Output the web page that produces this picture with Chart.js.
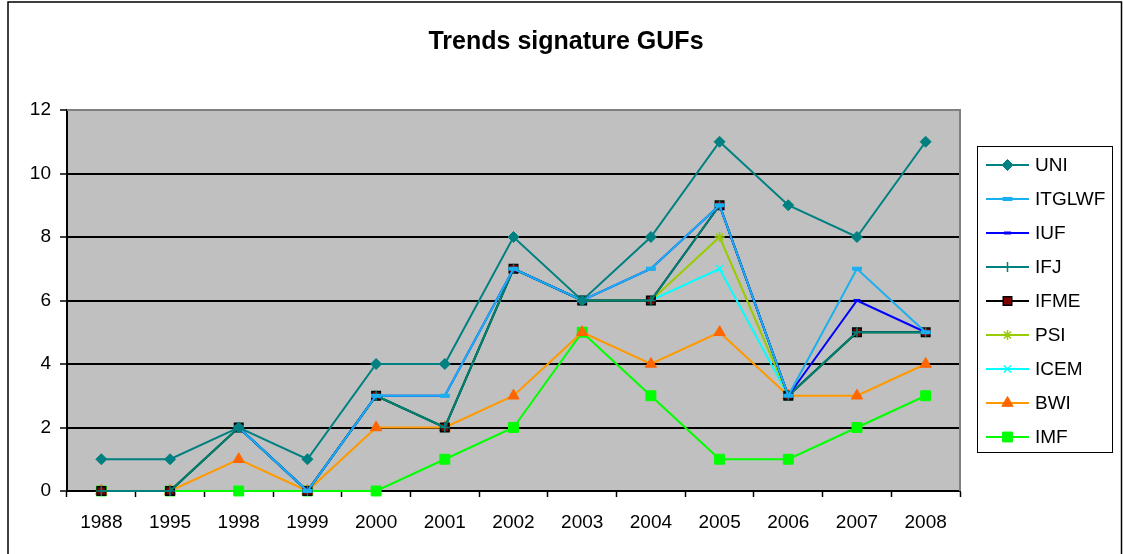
<!DOCTYPE html>
<html>
<head>
<meta charset="utf-8">
<title>Trends signature GUFs</title>
<script src="https://cdn.jsdelivr.net/npm/chart.js@4.4.1/dist/chart.umd.min.js"></script>
<style>
  html, body { margin: 0; padding: 0; background: #fff; }
  canvas { display: block; }
</style>
</head>
<body>
<canvas id="gufs" width="1123" height="554"></canvas>
<script>
const years = ['1988', '1995', '1998', '1999', '2000', '2001', '2002', '2003', '2004', '2005', '2006', '2007', '2008']
const yTicks = [0, 2, 4, 6, 8, 10, 12]

const uni    = [1, 1, 2, 1, 4, 4, 8, 6, 8, 11, 9, 8, 11]
const itglwf = [null, null, 2, 0, 3, 3, 7, 6, 7, 9, 3, 7, 5]
const iuf    = [null, null, 2, 0, 3, 3, 7, 6, 7, 9, 3, 6, 5]
const ifj    = [0, 0, 2, 0, 3, 2, 7, 6, 6, 9, 3, 5, 5]
const ifme   = [0, 0, 2, 0, 3, 2, 7, 6, 6, 9, 3, 5, 5]
const psi    = [0, 0, 2, 0, 3, 2, 7, 6, 6, 8, 3, 5, 5]
const icem   = [0, 0, 2, 0, 3, 2, 7, 6, 6, 7, 3, 5, 5]
const bwi    = [0, 0, 1, 0, 2, 2, 3, 5, 4, 5, 3, 3, 4]
const imf    = [0, 0, 0, 0, 0, 1, 2, 5, 3, 1, 1, 2, 3]

const FONT = "'Liberation Sans', Arial, sans-serif"

function series(label, data, line, style, radius, fill, border, bw) {
    return {
        label: label,
        data: data,
        borderColor: line,
        borderWidth: 2,
        pointStyle: style,
        pointRadius: radius,
        pointHoverRadius: radius,
        pointBackgroundColor: fill,
        pointBorderColor: border,
        pointBorderWidth: bw,
        tension: 0,
        spanGaps: false,
        clip: false,  // markers sitting on 0 are drawn whole, like Excel
    }
}

// plot background, outer frame, title and the Excel-like legend
const excelLook = {
    id: 'excelLook',
    beforeDraw(chart) {
        const {ctx, chartArea: a} = chart
        ctx.save()
        ctx.fillStyle = '#fff'
        ctx.fillRect(0, 0, chart.width, chart.height)
        ctx.fillStyle = '#c0c0c0'
        ctx.fillRect(a.left, a.top, a.right - a.left, a.bottom - a.top)
        ctx.restore()
    },
    afterDraw(chart) {
        const {ctx, chartArea: a} = chart
        ctx.save()
        // plot border top/right
        ctx.strokeStyle = '#808080'
        ctx.lineWidth = 2
        ctx.beginPath()
        ctx.moveTo(a.left, a.top)
        ctx.lineTo(a.right, a.top)
        ctx.lineTo(a.right, a.bottom)
        ctx.stroke()

        // outer frame
        ctx.strokeStyle = '#000'
        ctx.lineWidth = 1.5
        ctx.strokeRect(8, 2, 1113.5, 570)

        // title
        ctx.fillStyle = '#000'
        ctx.font = 'bold 25px ' + FONT
        ctx.textAlign = 'center'
        ctx.textBaseline = 'middle'
        ctx.fillText('Trends signature GUFs', 566, 42)

        // legend
        ctx.lineWidth = 1
        ctx.strokeStyle = '#000'
        ctx.strokeRect(977.5, 146.5, 135, 306)
        ctx.font = '19px ' + FONT
        ctx.textAlign = 'left'
        chart.data.datasets.forEach((ds, i) => {
            const y = 165 + i * 34
            ctx.strokeStyle = ds.borderColor
            ctx.lineWidth = 2
            ctx.beginPath()
            ctx.moveTo(986, y)
            ctx.lineTo(1029, y)
            ctx.stroke()
            ctx.fillStyle = ds.pointBackgroundColor
            ctx.strokeStyle = ds.pointBorderColor
            ctx.lineWidth = ds.pointBorderWidth
            if (Chart.helpers && Chart.helpers.drawPoint) {
                Chart.helpers.drawPoint(ctx, {
                    pointStyle: ds.pointStyle, radius: ds.pointRadius,
                    borderWidth: ds.pointBorderWidth, rotation: 0
                }, 1007.5, y)
            }
            ctx.fillStyle = '#000'
            ctx.fillText(ds.label, 1035, y + 1)
        })
        ctx.restore()
    }
}

new Chart(document.getElementById('gufs'), {
    type: 'line',
    plugins: [excelLook],
    data: {
        labels: years,
        datasets: [
            series('UNI', uni, '#008080', 'rectRot', 5.5, '#008080', '#008080', 1),
            series('ITGLWF', itglwf, '#1ab0f0', 'line', 5, '#1ab0f0', '#1ab0f0', 4),
            series('IUF', iuf, '#0000ff', 'line', 3.5, '#0000ff', '#0000ff', 3),
            series('IFJ', ifj, '#00807a', 'cross', 5, '#00807a', '#00807a', 1.5),
            series('IFME', ifme, '#000000', 'rect', 6, '#800000', '#000000', 1.5),
            series('PSI', psi, '#99cc00', 'star', 5, '#99cc00', '#99cc00', 1.5),
            series('ICEM', icem, '#00ffff', 'crossRot', 5, '#00ffff', '#00ffff', 1.5),
            series('BWI', bwi, '#ff9900', 'triangle', 6.5, '#ff6600', '#ff6600', 1),
            series('IMF', imf, '#00ff00', 'rect', 7, '#00ff00', '#00ff00', 1),
        ]
    },
    options: {
        responsive: false,
        animation: false,
        events: [],
        layout: {padding: {top: 110, left: 0, right: 163, bottom: 0}},
        plugins: {
            legend: {display: false},
            title: {display: false},
            tooltip: {enabled: false},
        },
        scales: {
            x: {
                type: 'category',
                offset: true,
                afterFit: (s) => { s.height = 63 },
                grid: {
                    offset: true, drawOnChartArea: false, drawTicks: true,
                    tickLength: 6, tickColor: '#000', tickWidth: 1.5,
                },
                border: {display: true, color: '#000', width: 2},
                ticks: {
                    color: '#000', padding: 14, maxRotation: 0, autoSkip: false,
                    font: {family: FONT, size: 19},
                },
            },
            y: {
                min: 0,
                max: 12,
                afterFit: (s) => { s.width = 67 },
                afterBuildTicks: (s) => { s.ticks = yTicks.map(v => ({value: v})) },
                grid: {
                    color: (c) => (c.tick && c.tick.value === 12 ? '#808080' : '#000'),
                    lineWidth: 2,
                    tickLength: 7, tickColor: '#000', tickWidth: 1.5,
                },
                border: {display: true, color: '#000', width: 2},
                ticks: {
                    color: '#000', padding: 9,
                    font: {family: FONT, size: 19},
                },
            }
        }
    }
});
</script>
</body>
</html>
